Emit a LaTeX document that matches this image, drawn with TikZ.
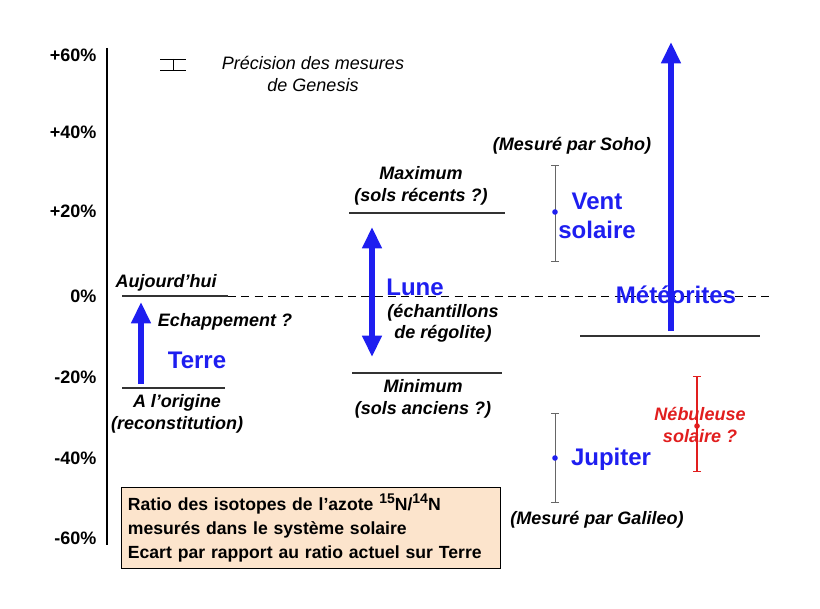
\documentclass[tikz,border=0pt]{standalone}
\usepackage{fontspec}
\setmainfont{Liberation Sans}
\usetikzlibrary{arrows.meta, positioning}
\definecolor{peach}{RGB}{252,228,204}
\definecolor{myblue}{RGB}{30,30,240}
\definecolor{myred}{RGB}{225,30,30}
\newcommand{\isosup}[1]{\raisebox{0.8ex}{\fontsize{10.5}{12}\selectfont #1}}

\begin{document}
\begin{tikzpicture}[x=0.75pt, y=-0.75pt,
    tick/.style={anchor=east, font=\fontsize{13.5}{15}\selectfont\bfseries},
    lab/.style={font=\fontsize{13.5}{16}\selectfont\bfseries\itshape},
    big/.style={text=myblue, font=\fontsize{18}{22}\selectfont\bfseries},
    level/.style={draw=black!80, line width=0.8pt},
    bigarrow/.style={myblue, line width=4pt, -{Triangle[length=16pt, width=14pt]}},
    errbar/.style={draw=black!60, line width=0.6pt, |-|}]
  \useasboundingbox (0,0) rectangle (820,609);

  % AXIS

  \draw[line width=0.8pt] (107,48) -- (107,545);
  \foreach \y/\t in {55/+60\%, 132/+40\%, 211/+20\%, 296/0\%, 377/-20\%, 458/-40\%, 538/-60\%}
    \node[tick] at (101,\y) {\t};
  \draw[dash pattern=on 6pt off 4pt, line width=0.7pt] (228,296) -- (770,296);

  % PRECISION

  \draw[line width=0.6pt] (160,59) -- (186,59) (160,70) -- (186,70) (173,59) -- (173,70);
  \node[font=\fontsize{13.5}{16}\selectfont\itshape, align=center] (genesis) at (313,74)
    {Précision des mesures\\de Genesis};

  % TERRE

  \draw[level] (122,296) -- (228,296);
  \node[lab] (aujourdhui) at (166,283) {Aujourd’hui};
  \draw[level] (122,388) -- (225,388);
  \node[lab, align=center] (origine) at (177,414) {A l’origine\\(reconstitution)};
  \coordinate (terrebas) at (141,384);
  \coordinate (terrehaut) at (141,302);
  \draw[bigarrow] (terrebas) -- (terrehaut);
  \node[lab] (echappement) at (225,322) {Echappement ?};
  \node[big] (terre) at (197,360) {Terre};

  % LUNE

  \draw[level] (349,213) -- (505,213);
  \node[lab, align=center] (maximum) at (421,186) {Maximum\\(sols récents ?)};
  \draw[level] (352,373) -- (502,373);
  \node[lab, align=center] (minimum) at (423,399) {Minimum\\(sols anciens ?)};
  \coordinate (lunehaut) at (372,227);
  \coordinate (lunebas) at (372,357);
  \draw[myblue, line width=4pt, {Triangle[length=16pt, width=14pt]}-{Triangle[length=16pt, width=14pt]}]
    (lunebas) -- (lunehaut);
  \node[big] (lune) at (415,287) {Lune};
  \node[lab, align=center] (regolite) at (443,323) {(échantillons\\de régolite)};

  % VENT SOLAIRE

  \draw[errbar] (555,165) -- (555,262);
  \fill[myblue] (555,212) circle (2.8);
  \node[lab] (soho) at (572,146) {(Mesuré par Soho)};
  \node[big, align=center] (vent) at (597,216) {Vent\\solaire};

  % METEORITES

  \draw[level] (580,336) -- (760,336);
  \coordinate (meteobas) at (671,331);
  \coordinate (meteohaut) at (671,42);
  \draw[bigarrow] (meteobas) -- (meteohaut);
  \node[big] (meteorites) at (676,295) {Météorites};

  % JUPITER

  \draw[errbar] (555,413) -- (555,503);
  \fill[myblue] (555,458) circle (2.8);
  \node[big] (jupiter) at (611,459) {Jupiter};
  \node[lab] (galileo) at (597,520) {(Mesuré par Galileo)};

  % NEBULEUSE

  \draw[myred, line width=0.8pt, |-|] (697,376) -- (697,472);
  \fill[myred] (697,426) circle (2.8);
  \node[lab, text=myred, align=center] (nebuleuse) at (700,425) {Nébuleuse\\solaire ?};

  % LEGENDE

  \node[draw, fill=peach, anchor=north west, minimum width=378*0.75pt, minimum height=81*0.75pt,
    align=left, text width=366*0.75pt, inner xsep=5pt, font=\fontsize{13.2}{18}\selectfont\bfseries] (legende) at (121,487)
    {Ratio des isotopes de l’azote \isosup{15}N/\isosup{14}N\\
     mesurés dans le système solaire\\
     Ecart par rapport au ratio actuel sur Terre};
\end{tikzpicture}
\end{document}
